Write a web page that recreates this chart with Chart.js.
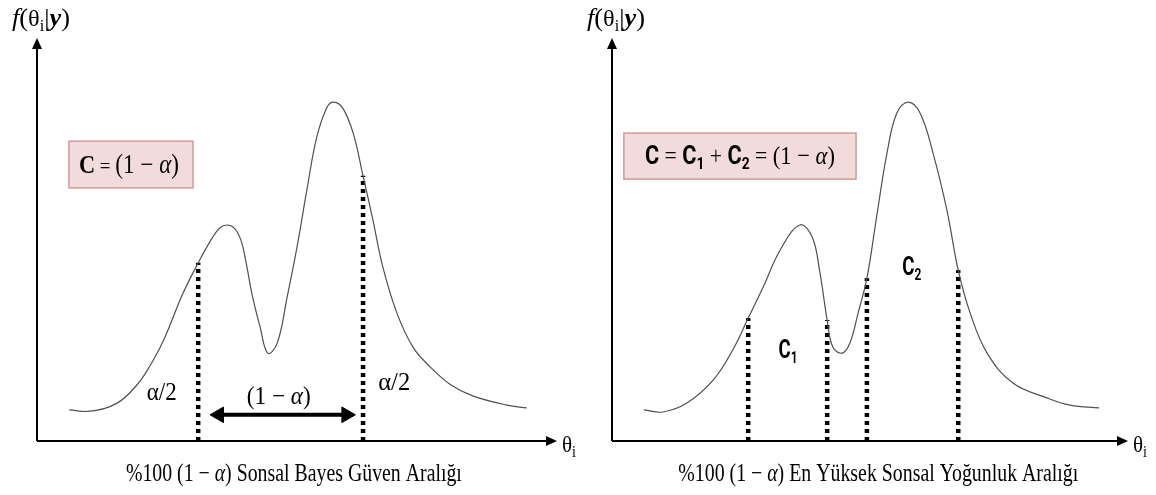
<!DOCTYPE html>
<html>
<head>
<meta charset="utf-8">
<script src="https://cdn.jsdelivr.net/npm/chart.js@4.4.1/dist/chart.umd.min.js"></script>
<style>
body { margin: 0; background: #fff; }
#kap { position: relative; width: 1156px; height: 495px; }
canvas { position: absolute; top: 0; }
</style>
</head>
<body>
<div id="kap">
<canvas id="sol" width="578" height="495" style="left:0"></canvas>
<canvas id="sag" width="578" height="495" style="left:578px"></canvas>
</div>
<script>
// sol: sonsal bayes guven araligi
const solTeta = [0.62, 1.02, 1.54, 1.92, 2.17, 2.42, 2.81, 3.10, 3.37, 3.52, 3.65, 3.79, 3.92, 4.02, 4.13, 4.29, 4.44, 4.62, 4.81, 5.00, 5.19, 5.38, 5.58, 5.71, 5.88, 6.08, 6.27, 6.46, 6.65, 6.92, 7.23, 7.56, 7.94, 8.38, 9.04, 9.42];
const solYog = [0.077, 0.074, 0.094, 0.139, 0.186, 0.246, 0.367, 0.442, 0.504, 0.529, 0.536, 0.529, 0.499, 0.444, 0.367, 0.283, 0.218, 0.243, 0.357, 0.481, 0.623, 0.754, 0.829, 0.841, 0.826, 0.764, 0.658, 0.548, 0.432, 0.318, 0.233, 0.184, 0.141, 0.112, 0.089, 0.082];
const solKesikX = [3.10, 6.27];
const solKesikY = [0.442, 0.658];
const okX = [3.50, 5.95];
const okY = [0.065, 0.065];

// sag: en yuksek sonsal yogunluk araligi
const sagTeta = [0.62, 0.99, 1.45, 1.96, 2.34, 2.64, 2.93, 3.26, 3.64, 3.88, 4.03, 4.17, 4.28, 4.46, 4.61, 4.77, 4.94, 5.14, 5.33, 5.52, 5.74, 5.97, 6.22, 6.49, 6.71, 6.94, 7.27, 7.77, 8.43, 8.88, 9.44];
const sagYog = [0.077, 0.072, 0.094, 0.151, 0.226, 0.305, 0.382, 0.474, 0.536, 0.506, 0.417, 0.300, 0.233, 0.218, 0.243, 0.318, 0.404, 0.566, 0.715, 0.814, 0.841, 0.814, 0.715, 0.573, 0.424, 0.318, 0.218, 0.144, 0.107, 0.089, 0.082];
const sagKesikX = [2.64, 4.17, 4.94, 6.71];
const sagKesikY = [0.305, 0.300, 0.404, 0.424];

const SERIF = "'Liberation Serif', 'DejaVu Serif', serif";
const SANS = "Roboto, 'Liberation Sans', sans-serif";

// parcalar: [metin, font, dy]
function yaziGenislik(ctx, parcalar) {
    let w = 0;
    parcalar.forEach(p => { ctx.font = p[1]; w += ctx.measureText(p[0]).width; });
    return w;
}

function zenginYazi(ctx, parcalar, x, taban, hiza, hedefW) {
    const w = yaziGenislik(ctx, parcalar);
    const k = hedefW ? hedefW / w : 1;
    const bas = hiza === "left" ? x : x - w * k / 2;
    ctx.save();
    ctx.translate(bas, taban);
    ctx.scale(k, 1);
    ctx.textBaseline = "alphabetic";
    ctx.textAlign = "left";
    let cx = 0;
    parcalar.forEach(p => {
        ctx.font = p[1];
        ctx.fillText(p[0], cx, p[2] || 0);
        cx += ctx.measureText(p[0]).width;
    });
    ctx.restore();
}

function baslikParca() {
    return [
        ["f", "italic 26px " + SERIF],
        ["(", "26px " + SERIF],
        ["θ", "24px " + SERIF],
        ["i", "16px " + SERIF, 5],
        ["|", "26px " + SERIF],
        ["y", "bold italic 26px " + SERIF],
        [")", "26px " + SERIF]
    ];
}

const cizim = {
    id: "cizim",
    beforeDatasetsDraw(chart, args, o) {
        const { ctx, chartArea: a, scales: { x, y } } = chart;
        const x0 = x.getPixelForValue(0), y0 = y.getPixelForValue(0);
        ctx.save();
        // kutu
        const k = o.kutu;
        const kx1 = x.getPixelForValue(k.x[0]), kx2 = x.getPixelForValue(k.x[1]);
        const ky1 = y.getPixelForValue(k.y[0]), ky2 = y.getPixelForValue(k.y[1]);
        ctx.fillStyle = "#f2dcdb";
        ctx.strokeStyle = "#cf9a98";
        ctx.lineWidth = 1.5;
        ctx.fillRect(kx1, ky1, kx2 - kx1, ky2 - ky1);
        ctx.strokeRect(kx1, ky1, kx2 - kx1, ky2 - ky1);
        // eksenler
        ctx.strokeStyle = "#000";
        ctx.fillStyle = "#000";
        ctx.lineWidth = 2;
        ctx.beginPath();
        ctx.moveTo(x0, y0);
        ctx.lineTo(a.right - 8, y0);
        ctx.moveTo(x0, y0);
        ctx.lineTo(x0, a.top + 8);
        ctx.stroke();
        ctx.beginPath();
        ctx.moveTo(a.right, y0);
        ctx.lineTo(a.right - 11, y0 - 5);
        ctx.lineTo(a.right - 11, y0 + 5);
        ctx.closePath();
        ctx.moveTo(x0, a.top);
        ctx.lineTo(x0 - 5, a.top + 11);
        ctx.lineTo(x0 + 5, a.top + 11);
        ctx.closePath();
        ctx.fill();
        ctx.restore();
    },
    afterDatasetsDraw(chart, args, o) {
        const { ctx, chartArea: a, scales: { x, y } } = chart;
        const y0 = y.getPixelForValue(0);
        ctx.save();
        ctx.fillStyle = "#000";
        zenginYazi(ctx, baslikParca(), o.baslikX, 26, "left", 58);
        zenginYazi(ctx, [["θ", "24px " + SERIF], ["i", "16px " + SERIF, 5]], a.right + 5, y0 + 11, "left", 14);
        const k = o.kutu;
        zenginYazi(ctx, k.yazi, x.getPixelForValue(k.tx), y.getPixelForValue(k.ty) + 8, "center", k.w);
        o.etiketler.forEach(e => {
            zenginYazi(ctx, e.yazi, x.getPixelForValue(e.x), y.getPixelForValue(e.y) + e.dy, "center", e.w);
        });
        zenginYazi(ctx, o.altYazi, x.getPixelForValue(o.altX), y0 + 40, "center", o.altW);
        ctx.restore();
    }
};

function kesikSetleri(xs, ys) {
    return xs.map((v, i) => ({
        data: [{ x: v, y: 0 }, { x: v, y: ys[i] }],
        borderColor: "#000",
        borderWidth: 4.5,
        borderDash: [4, 4],
        borderCapStyle: "butt",
        pointRadius: 0
    }));
}

function egriSeti(xs, ys) {
    return {
        data: xs.map((v, i) => ({ x: v, y: ys[i] })),
        borderColor: "#505050",
        borderWidth: 1.2,
        tension: 0.4,
        pointRadius: 0
    };
}

function grafik(id, setler, pad, cizimAyar) {
    return new Chart(document.getElementById(id), {
        type: "line",
        data: { datasets: setler },
        options: {
            responsive: false,
            animation: false,
            events: [],
            layout: { padding: pad },
            scales: {
                x: { type: "linear", min: 0, max: 10, display: false },
                y: { min: 0, max: 1, display: false }
            },
            plugins: {
                legend: { display: false },
                tooltip: { enabled: false },
                cizim: cizimAyar
            }
        },
        plugins: [cizim]
    });
}

const alfaSag = (boy) => [
    ["(1 − ", boy + "px " + SERIF],
    ["α", "italic " + boy + "px " + SERIF],
    [")", boy + "px " + SERIF]
];

grafik("sol", [
    egriSeti(solTeta, solYog),
    ...kesikSetleri(solKesikX, solKesikY),
    {
        data: okX.map((v, i) => ({ x: v, y: okY[i] })),
        borderColor: "#000",
        borderWidth: 4,
        pointStyle: "triangle",
        pointRadius: 9,
        pointRotation: [-90, 90],
        pointBackgroundColor: "#000",
        pointBorderColor: "#000",
        pointBorderWidth: 1
    }
], { left: 37, right: 21, top: 38, bottom: 54 }, {
    baslikX: 12,
    kutu: {
        x: [0.615, 3.0], y: [0.744, 0.628], tx: 1.77, ty: 0.685, w: 100,
        yazi: [["C", "bold 26px " + SERIF], [" = ", "22px " + SERIF], ...alfaSag(27)]
    },
    etiketler: [
        { yazi: [["α/2", "25px " + SERIF]], x: 2.40, y: 0.122, dy: 8, w: 30 },
        { yazi: [["α/2", "25px " + SERIF]], x: 6.87, y: 0.146, dy: 8, w: 32 },
        { yazi: alfaSag(25), x: 4.65, y: 0.112, dy: 8, w: 64 }
    ],
    altYazi: [["%100 (1 − ", "25px " + SERIF], ["α", "italic 25px " + SERIF], [") Sonsal Bayes Güven Aralığı", "25px " + SERIF]],
    altX: 4.94,
    altW: 336
});

grafik("sag", [
    egriSeti(sagTeta, sagYog),
    ...kesikSetleri(sagKesikX, sagKesikY)
], { left: 34, right: 28, top: 38, bottom: 54 }, {
    baslikX: 9,
    kutu: {
        x: [0.23, 4.73], y: [0.764, 0.650], tx: 2.48, ty: 0.707, w: 190,
        yazi: [
            ["C", "bold 25px " + SANS], [" = ", "25px " + SERIF],
            ["C", "bold 25px " + SANS], ["1", "bold 16px " + SANS, 5], [" + ", "25px " + SERIF],
            ["C", "bold 25px " + SANS], ["2", "bold 16px " + SANS, 5], [" = ", "25px " + SERIF],
            ...alfaSag(26)
        ]
    },
    etiketler: [
        { yazi: [["C", "bold 25px " + SANS], ["1", "bold 16px " + SANS, 5]], x: 3.41, y: 0.228, dy: 9, w: 19 },
        { yazi: [["C", "bold 25px " + SANS], ["2", "bold 16px " + SANS, 5]], x: 5.81, y: 0.434, dy: 9, w: 19 }
    ],
    altYazi: [["%100 (1 − ", "25px " + SERIF], ["α", "italic 25px " + SERIF], [") En Yüksek Sonsal Yoğunluk Aralığı", "25px " + SERIF]],
    altX: 5.16,
    altW: 400
});
</script>
</body>
</html>
